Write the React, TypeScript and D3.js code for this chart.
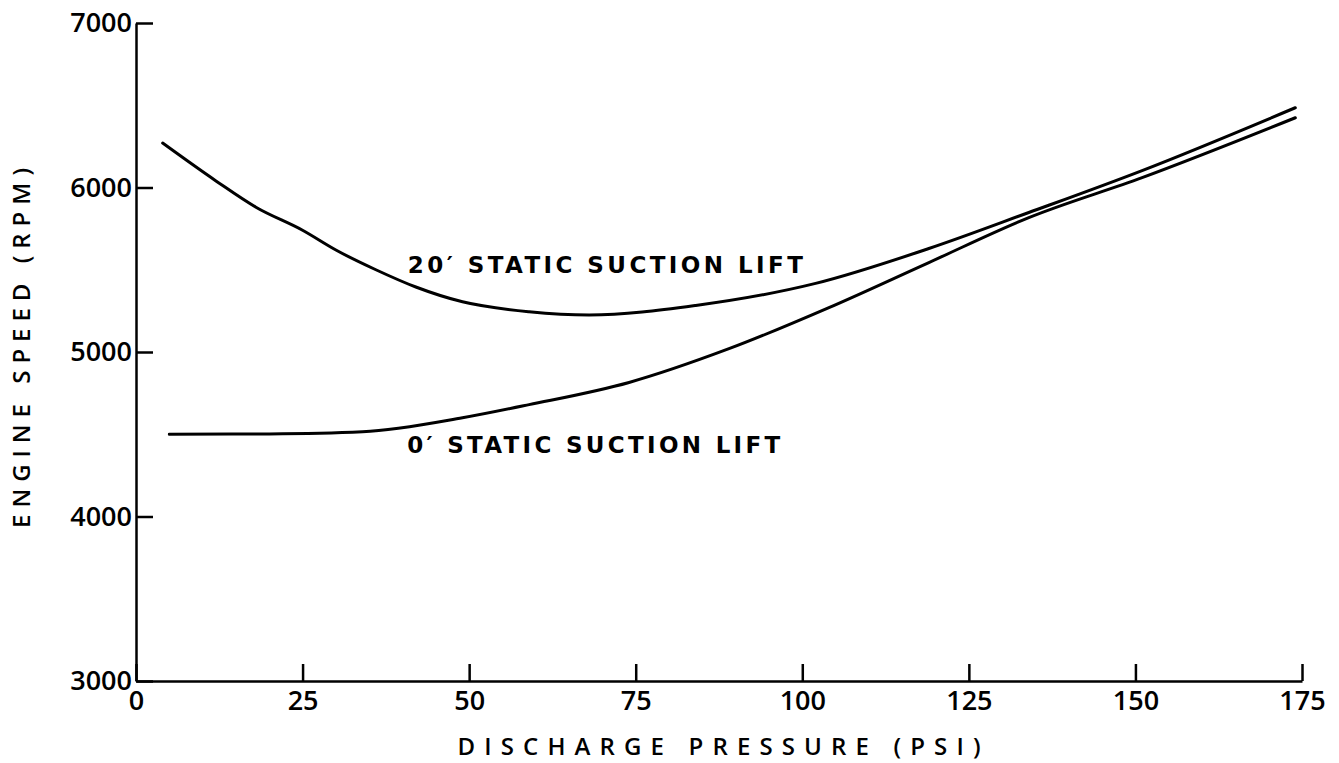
import { useEffect, useRef } from "react";
import * as d3 from "d3";

// discharge pressure (psi) / engine speed (rpm)
const liftHighPsi = [4, 12, 18, 25, 30, 36, 42, 49, 59, 68, 84, 102, 119, 134, 151, 174];
const liftHighRpm = [6270, 6040, 5880, 5740, 5620, 5500, 5395, 5305, 5245, 5225, 5283, 5417, 5629, 5848, 6103, 6485];

const liftZeroPsi = [5, 20, 34, 49, 59, 74, 89, 104, 119, 134, 151, 174];
const liftZeroRpm = [4500, 4502, 4515, 4600, 4680, 4815, 5020, 5270, 5544, 5817, 6060, 6424];

const xTicks = [0, 25, 50, 75, 100, 125, 150, 175];
const yTicks = [3000, 4000, 5000, 6000, 7000];

const xTitle = "DISCHARGE PRESSURE (PSI)";
const yTitle = "ENGINE SPEED (RPM)";
const curveLabels = ["20\u2032 STATIC SUCTION LIFT", "0\u2032 STATIC SUCTION LIFT"];

const width = 1339;
const height = 763;
const font = "'Open Sans', 'DejaVu Sans', sans-serif";
const labelFont = "'DejaVu Sans', sans-serif";

export default function App() {
  const ref = useRef<SVGSVGElement>(null);

  useEffect(() => {
    const svg = d3.select(ref.current);
    svg.selectAll("*").remove();

    const x = d3.scaleLinear([0, 175], [136, 1302]);
    const y = d3.scaleLinear([3000, 7000], [681, 23]);

    // axes, ticks point inward
    svg
      .append("g")
      .attr("transform", `translate(0,${y(3000)})`)
      .call(
        d3.axisBottom(x).tickValues(xTicks).tickFormat(d3.format("d")).tickSize(-17).tickSizeOuter(0).tickPadding(10)
      )
      .call((g) => g.selectAll("line, path").attr("stroke", "#000").attr("stroke-width", 2.5))
      .call((g) =>
        g.selectAll("text").attr("font-size", 27).attr("font-family", font).attr("font-weight", 600).attr("fill", "#000")
      );

    svg
      .append("g")
      .attr("transform", `translate(${x(0)},0)`)
      .call(
        d3.axisLeft(y).tickValues(yTicks).tickFormat(d3.format("d")).tickSize(-17).tickSizeOuter(0).tickPadding(4)
      )
      .call((g) => g.selectAll("line, path").attr("stroke", "#000").attr("stroke-width", 2.5))
      .call((g) =>
        g.selectAll("text").attr("font-size", 27).attr("font-family", font).attr("font-weight", 600).attr("fill", "#000")
      );

    const line = d3
      .line<[number, number]>()
      .x((d) => x(d[0]))
      .y((d) => y(d[1]))
      .curve(d3.curveMonotoneX);

    const series = [
      d3.zip(liftHighPsi, liftHighRpm) as [number, number][],
      d3.zip(liftZeroPsi, liftZeroRpm) as [number, number][],
    ];

    svg
      .append("g")
      .selectAll("path")
      .data(series)
      .join("path")
      .attr("d", (d) => line(d))
      .attr("fill", "none")
      .attr("stroke", "#000")
      .attr("stroke-width", 3)
      .attr("stroke-linecap", "round");

    // curve labels
    const labelAt = [
      { psi: 40.8, rpm: 5483, len: 395 },
      { psi: 40.7, rpm: 4384, len: 373 },
    ];
    svg
      .append("g")
      .selectAll("text")
      .data(curveLabels)
      .join("text")
      .attr("x", (_, i) => x(labelAt[i].psi))
      .attr("y", (_, i) => y(labelAt[i].rpm))
      .attr("textLength", (_, i) => labelAt[i].len)
      .attr("lengthAdjust", "spacing")
      .attr("font-family", labelFont)
      .attr("font-weight", "bold")
      .attr("font-size", 23)
      .text((d) => d);

    // axis titles
    svg
      .append("text")
      .attr("x", (x(0) + x(175)) / 2)
      .attr("y", 755)
      .attr("text-anchor", "middle")
      .attr("textLength", 523)
      .attr("lengthAdjust", "spacing")
      .attr("font-family", font)
      .attr("font-weight", 600)
      .attr("font-size", 24)
      .text(xTitle);

    svg
      .append("text")
      .attr("transform", `translate(30,348) rotate(-90)`)
      .attr("text-anchor", "middle")
      .attr("textLength", 360)
      .attr("lengthAdjust", "spacing")
      .attr("font-family", font)
      .attr("font-weight", 600)
      .attr("font-size", 24)
      .text(yTitle);
  }, []);

  return (
    <svg
      ref={ref}
      width={width}
      height={height}
      style={{ position: "absolute", left: 0, top: 0, background: "#fff" }}
    />
  );
}
